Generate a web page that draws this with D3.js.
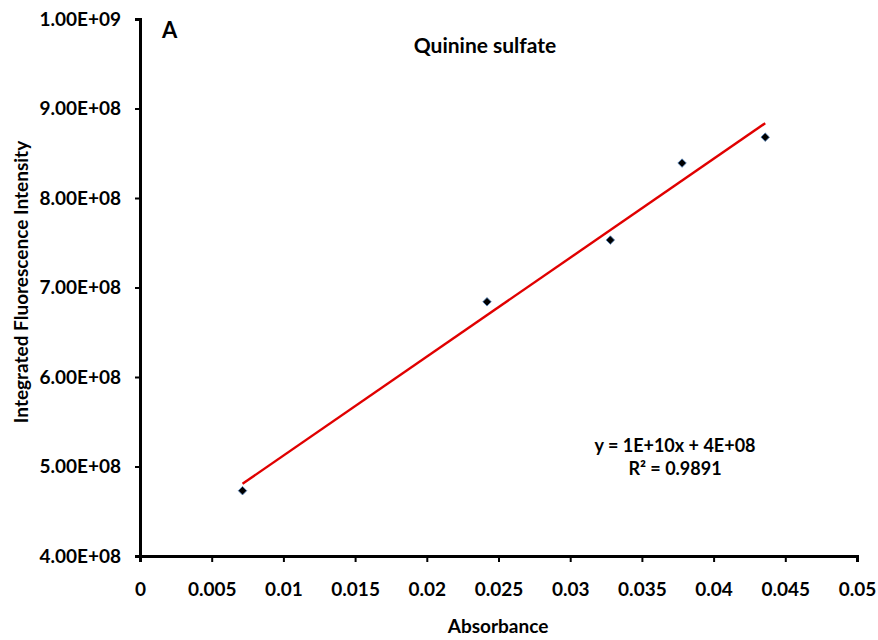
<!DOCTYPE html>
<html>
<head>
<meta charset="utf-8">
<script src="https://cdn.jsdelivr.net/npm/d3@7"></script>
<style>
  body { margin: 0; background: #fff; }
  text { font-family: Lato, "Noto Sans", sans-serif; font-weight: bold; fill: #000; }
</style>
</head>
<body>
<div id="chart"></div>
<script>
// 数据
const absorbance = [0.00715, 0.0242, 0.0328, 0.0378, 0.0436]
const intensity = [4.73e8, 6.84e8, 7.53e8, 8.39e8, 8.68e8]
const xTicks = [0, 0.005, 0.01, 0.015, 0.02, 0.025, 0.03, 0.035, 0.04, 0.045, 0.05]
const yTicks = [4e8, 5e8, 6e8, 7e8, 8e8, 9e8, 1e9]

const width = 878
const height = 640
const margin = { top: 19, right: 21, bottom: 84, left: 140 }
const fontSize = 19

const svg = d3.select('#chart')
  .append('svg')
  .attr('width', width)
  .attr('height', height)

const x = d3.scaleLinear().domain([0, 0.05]).range([margin.left, width - margin.right])
const y = d3.scaleLinear().domain([4e8, 1e9]).range([height - margin.bottom, margin.top])

// y轴
const yAxis = svg.append('g')
  .attr('transform', `translate(${margin.left},0)`)
  .call(d3.axisLeft(y).tickValues(yTicks).tickSize(5).tickPadding(14)
    .tickFormat(d => (d >= 1e9 ? (d / 1e9).toFixed(2) + 'E+09' : (d / 1e8).toFixed(2) + 'E+08')))
yAxis.select('.domain').attr('stroke-width', 3)
yAxis.selectAll('.tick line').attr('stroke-width', 2)
yAxis.selectAll('.tick text').attr('font-size', fontSize)

// x轴
const xAxis = svg.append('g')
  .attr('transform', `translate(0,${height - margin.bottom})`)
  .call(d3.axisBottom(x).tickValues(xTicks).tickSize(6).tickPadding(21)
    .tickFormat(d => String(+d.toFixed(3))))
xAxis.select('.domain').attr('stroke-width', 3)
xAxis.selectAll('.tick line').attr('stroke-width', 2)
xAxis.selectAll('.tick text').attr('font-size', fontSize)

// 线性回归
const n = absorbance.length
const mx = d3.mean(absorbance)
const my = d3.mean(intensity)
let sxy = 0, sxx = 0
for (let i = 0; i < n; i++) {
  sxy += (absorbance[i] - mx) * (intensity[i] - my)
  sxx += (absorbance[i] - mx) ** 2
}
const slope = sxy / sxx
const intercept = my - slope * mx
const x0 = d3.min(absorbance)
const x1 = d3.max(absorbance)

svg.append('line')
  .attr('x1', x(x0)).attr('y1', y(slope * x0 + intercept))
  .attr('x2', x(x1)).attr('y2', y(slope * x1 + intercept))
  .attr('stroke', '#e00000')
  .attr('stroke-width', 2.4)

// 数据点
svg.append('g')
  .selectAll('path')
  .data(absorbance)
  .enter().append('path')
  .attr('d', d3.symbol().type(d3.symbolDiamond2).size(46))
  .attr('transform', (d, i) => `translate(${x(d)},${y(intensity[i])})`)
  .attr('fill', '#000')
  .attr('stroke', '#4f81bd')
  .attr('stroke-width', 0.8)

// 文字
svg.append('text').attr('x', 162).attr('y', 38).attr('font-size', 22).text('A')
svg.append('text').attr('x', 485).attr('y', 53).attr('text-anchor', 'middle')
  .attr('font-size', 21).text('Quinine sulfate')
svg.append('text').attr('x', 675).attr('y', 452).attr('text-anchor', 'middle')
  .attr('font-size', 18).text('y = 1E+10x + 4E+08')
svg.append('text').attr('x', 675).attr('y', 475).attr('text-anchor', 'middle')
  .attr('font-size', 18).text('R² = 0.9891')
svg.append('text').attr('x', 498).attr('y', 633).attr('text-anchor', 'middle')
  .attr('font-size', fontSize).text('Absorbance')
svg.append('text')
  .attr('transform', 'translate(28,282) rotate(-90)')
  .attr('text-anchor', 'middle')
  .attr('font-size', fontSize).text('Integrated Fluorescence Intensity')
</script>
</body>
</html>
